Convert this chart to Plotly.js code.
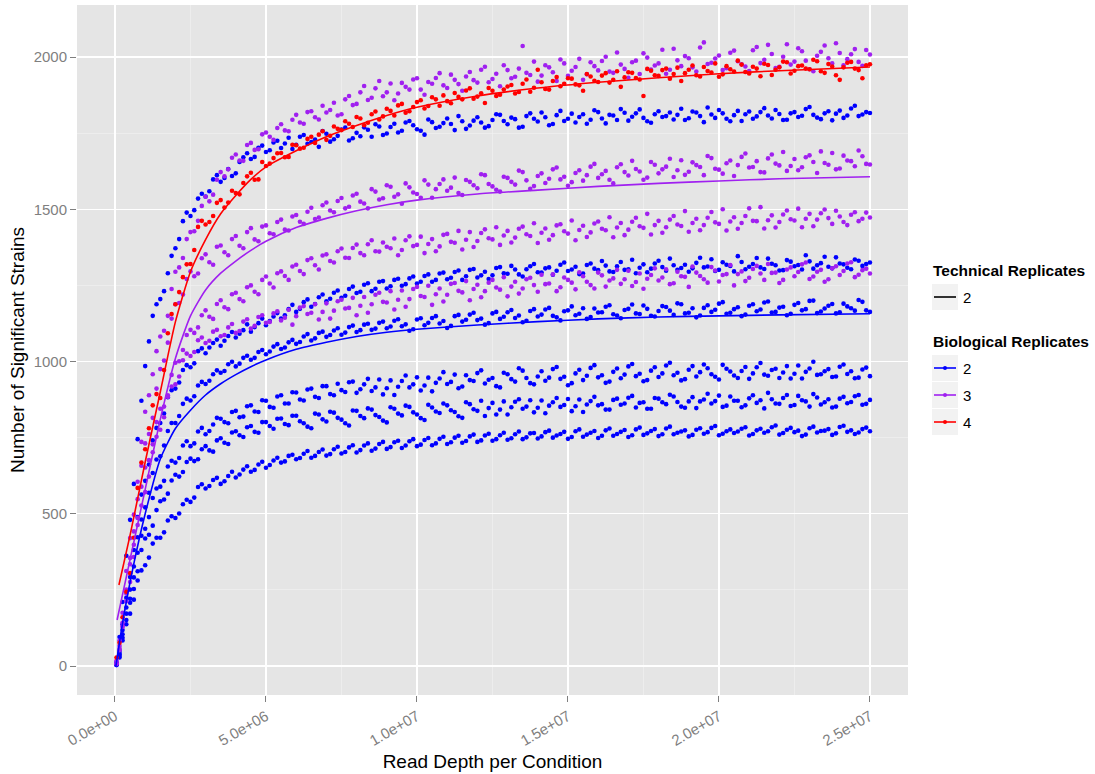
<!DOCTYPE html>
<html>
<head>
<meta charset="utf-8">
<script src="https://cdn.plot.ly/plotly-3.0.1.min.js"></script>
<style>html,body{margin:0;padding:0;background:#fff;}#chart{width:1095px;height:774px;}</style>
</head>
<body>
<div id="chart"></div>
<script>
// Read depth per condition, in millions of reads (two interleaved sampling grids)
const depthM = [0.05,0.25,0.5,0.75,1,1.25,1.5,1.75,2,2.25,2.5,2.75,3,3.25,3.5,3.75,4,4.25,4.5,4.75,
5,5.25,5.5,5.75,6,6.25,6.5,6.75,7,7.25,7.5,7.75,8,8.25,8.5,8.75,9,9.25,9.5,9.75,
10,10.25,10.5,10.75,11,11.25,11.5,11.75,12,12.25,12.5,12.75,13,13.25,13.5,13.75,14,14.25,14.5,14.75,
15,15.25,15.5,15.75,16,16.25,16.5,16.75,17,17.25,17.5,17.75,18,18.25,18.5,18.75,19,19.25,19.5,19.75,
20,20.25,20.5,20.75,21,21.25,21.5,21.75,22,22.25,22.5,22.75,23,23.25,23.5,23.75,24,24.25,24.5,24.75,25];
const depthMidM = [0.15,0.375,0.625,0.875,1.125,1.375,1.625,1.875,2.125,2.375,2.625,2.875,3.125,3.375,3.625,3.875,4.125,4.375,4.625,4.875,
5.125,5.375,5.625,5.875,6.125,6.375,6.625,6.875,7.125,7.375,7.625,7.875,8.125,8.375,8.625,8.875,9.125,9.375,9.625,9.875,
10.125,10.375,10.625,10.875,11.125,11.375,11.625,11.875,12.125,12.375,12.625,12.875,13.125,13.375,13.625,13.875,14.125,14.375,14.625,14.875,
15.125,15.375,15.625,15.875,16.125,16.375,16.625,16.875,17.125,17.375,17.625,17.875,18.125,18.375,18.625,18.875,19.125,19.375,19.625,19.875,
20.125,20.375,20.625,20.875,21.125,21.375,21.625,21.875,22.125,22.375,22.625,22.875,23.125,23.375,23.625,23.875,24.125,24.375,24.625,24.875];

// ---- Biological replicates = 2 (blue), six subsets ----
const bio2_a = [12,210,480,745,985,1150,1205,1290,1372,1461,1478,1535,1542,1598,1590,1632,1618,1671,1665,1702,
1688,1719,1701,1735,1712,1744,1721,1705,1748,1730,1762,1726,1751,1769,1738,1772,1749,1781,1758,1790,
1763,1745,1786,1771,1798,1760,1789,1775,1802,1768,1793,1810,1779,1796,1771,1815,1788,1802,1780,1823,
1797,1785,1812,1794,1819,1782,1808,1829,1791,1815,1800,1784,1822,1806,1795,1830,1799,1818,1786,1811,
1826,1797,1809,1790,1821,1805,1832,1798,1813,1794,1819,1807,1836,1801,1815,1792,1824,1808,1840,1811,1816];
const bio2_a_mid = [95,362,598,871,1066,1188,1231,1347,1402,1489,1497,1551,1559,1612,1603,1609,1655,1684,1672,1709,
1694,1725,1716,1698,1738,1715,1729,1757,1722,1741,1768,1733,1740,1761,1779,1744,1770,1752,1785,1776,
1758,1795,1767,1783,1780,1806,1764,1791,1785,1773,1812,1790,1801,1768,1806,1797,1818,1776,1809,1790,
1814,1803,1781,1825,1798,1810,1793,1817,1804,1828,1789,1812,1803,1818,1810,1793,1821,1806,1834,1800,
1815,1789,1823,1812,1797,1819,1808,1826,1793,1815,1803,1829,1810,1796,1822,1814,1800,1831,1806,1819];
const bio2_b = [9,137,292,489,608,741,798,883,911,972,981,1034,1027,1061,1052,1084,1079,1103,1098,1126,
1119,1148,1141,1172,1163,1195,1180,1211,1198,1226,1209,1238,1225,1252,1231,1262,1240,1268,1249,1273,
1256,1281,1262,1289,1270,1294,1268,1301,1276,1295,1283,1310,1288,1302,1279,1313,1293,1306,1285,1318,
1297,1311,1289,1322,1300,1315,1294,1327,1303,1290,1319,1305,1331,1298,1316,1307,1295,1324,1309,1336,
1301,1318,1296,1327,1311,1340,1304,1321,1299,1333,1313,1302,1329,1316,1344,1306,1322,1308,1335,1314,1325];
const bio2_b_mid = [51,224,381,563,662,782,829,906,931,988,994,1043,1046,1072,1068,1097,1091,1122,1113,1141,
1133,1159,1152,1186,1173,1204,1189,1220,1206,1233,1216,1246,1229,1257,1239,1264,1247,1272,1254,1279,
1262,1286,1268,1292,1275,1299,1280,1304,1283,1271,1307,1290,1314,1286,1303,1320,1292,1309,1298,1325,
1302,1287,1317,1305,1330,1296,1313,1301,1334,1308,1293,1322,1310,1338,1301,1318,1306,1341,1312,1297,
1326,1314,1346,1303,1320,1309,1338,1316,1300,1328,1317,1349,1305,1323,1311,1342,1319,1303,1331,1320];
const bio2_c = [6,118,251,423,521,634,689,772,798,861,872,921,926,958,963,991,984,1012,1006,1031,
1024,1049,1041,1063,1058,1082,1069,1094,1081,1102,1088,1113,1097,1121,1104,1127,1109,1134,1116,1101,
1138,1119,1143,1125,1110,1149,1131,1154,1136,1121,1158,1140,1162,1143,1129,1166,1148,1171,1150,1135,
1168,1152,1175,1146,1161,1180,1155,1142,1173,1158,1184,1150,1166,1179,1153,1188,1160,1145,1176,1163,
1190,1157,1172,1149,1183,1165,1194,1161,1177,1152,1186,1168,1199,1159,1174,1189,1162,1181,1167,1196,1163];
const bio2_c_mid = [43,192,327,481,569,678,724,798,821,878,886,933,937,971,969,999,993,1019,1012,1038,
1033,1057,1046,1071,1064,1090,1076,1098,1087,1109,1095,1118,1103,1124,1108,1131,1115,1139,1122,1106,
1142,1127,1149,1133,1117,1153,1137,1160,1141,1126,1163,1147,1169,1151,1134,1172,1154,1176,1145,1165,
1181,1157,1140,1174,1162,1185,1151,1169,1187,1156,1173,1148,1182,1167,1191,1158,1175,1151,1185,1170,
1195,1160,1178,1154,1188,1171,1197,1163,1180,1157,1192,1172,1200,1164,1183,1158,1190,1175,1202,1168];
const bio2_d = [5,104,221,372,451,552,589,655,668,724,722,770,761,793,812,797,838,819,856,834,
871,848,889,862,898,872,911,880,919,889,906,932,897,925,903,941,912,890,936,915,
948,921,902,944,926,957,918,939,962,928,946,915,958,934,970,929,951,937,975,943,
922,961,939,979,948,930,966,945,984,952,935,970,949,987,955,938,973,951,990,958,
941,976,954,969,943,981,957,972,946,985,960,944,977,956,968,949,983,959,945,974,952];
const bio2_d_mid = [38,172,291,428,489,583,608,674,683,738,731,782,772,815,801,834,817,853,836,873,
851,885,862,899,875,908,884,919,893,927,900,934,909,943,915,892,938,917,954,925,
905,947,930,965,933,912,955,936,971,940,919,963,942,978,946,925,968,947,982,950,
929,973,953,988,955,934,977,957,992,960,939,981,961,996,963,942,985,965,978,950,
989,967,946,982,961,995,953,976,964,944,987,966,999,958,975,951,990,968,947,980];
const bio2_e = [4,93,208,311,419,461,541,566,628,637,681,679,722,704,748,729,771,752,788,766,
801,779,813,791,822,797,781,826,803,832,809,790,838,814,842,818,800,845,823,851,
826,808,849,831,856,834,815,860,838,821,864,842,826,868,845,873,848,830,866,851,
877,853,834,870,856,842,874,858,881,849,866,845,878,860,885,852,869,847,875,862,
888,855,871,850,879,864,846,876,861,890,857,873,852,882,866,849,878,863,886,858,874];
const bio2_e_mid = [33,151,253,381,431,512,547,609,622,670,673,712,708,741,733,767,758,784,769,801,
788,812,795,822,804,786,829,810,835,815,797,839,821,846,824,806,850,829,855,833,
814,858,836,862,840,820,866,843,871,847,826,869,850,876,852,833,872,855,880,857,
837,875,859,884,860,842,878,862,887,864,845,880,866,891,867,848,883,869,894,870,
851,885,871,856,889,873,897,862,880,854,887,869,893,859,876,852,884,867,890,861];
const bio2_f = [3,84,172,281,331,402,421,478,486,531,539,588,583,611,598,624,619,645,638,662,
651,675,668,690,679,697,684,703,691,712,698,718,701,724,707,729,713,735,716,738,
722,742,725,746,729,750,733,754,736,757,740,758,743,761,745,764,747,768,750,762,
746,771,753,766,749,774,756,769,752,777,759,772,755,780,761,770,754,776,763,782,
758,771,765,779,757,774,766,784,760,776,768,755,781,767,773,759,785,769,762,778,771];
const bio2_f_mid = [28,137,218,314,356,421,439,492,501,546,553,597,591,618,607,638,629,656,644,671,
660,684,672,694,683,706,690,711,696,720,703,725,709,731,714,736,719,740,724,745,
727,749,731,753,735,756,739,760,741,763,745,766,748,770,751,765,754,773,757,769,
752,777,760,772,756,780,762,775,758,783,764,778,761,786,766,774,759,781,768,788,
763,777,770,784,762,779,771,790,765,782,773,760,786,772,778,764,789,774,767,783];

// ---- Biological replicates = 3 (purple), four subsets ----
const bio3_a = [18,175,420,605,835,958,1082,1150,1295,1340,1425,1462,1541,1548,1622,1631,1680,1659,1718,1697,
1752,1728,1779,1756,1810,1781,1822,1795,1818,1850,1812,1872,1846,1905,1866,1921,1884,1858,1915,1893,
1930,1876,1912,1947,1898,1925,1889,1951,1916,1968,1928,1904,1957,1935,2036,1941,1919,1973,1950,1992,
1938,1967,1925,1983,1956,2001,1948,1975,1932,1988,2012,1959,1979,1945,2027,1970,1996,1952,2048,1981,
2005,1963,2021,1976,1954,2033,1991,2010,1968,2042,1985,2019,1960,2004,2038,1979,2013,1993,2026,1971,2008];
const bio3_a_mid = [84,312,497,736,889,1034,1101,1238,1309,1402,1428,1511,1526,1597,1608,1669,1660,1711,1695,1746,
1738,1767,1759,1794,1785,1819,1802,1840,1826,1808,1861,1842,1884,1859,1897,1871,1913,1880,1902,1926,
1893,1918,1931,1907,1942,1911,1936,1924,1958,1917,1945,1973,1930,1962,1948,1985,1939,1966,1921,1979,
1955,1994,1943,1970,1987,1952,2015,1961,1983,1944,1998,1972,2024,1958,1989,2003,1966,2031,1977,1995,
1957,2014,1986,1969,2022,1980,2040,1964,2001,1975,2029,1988,1953,2017,1996,2045,1973,2009,1984,2023];
const bio3_b = [8,142,355,548,731,815,975,1062,1188,1220,1296,1289,1352,1318,1381,1349,1412,1372,1438,1395,
1447,1418,1466,1430,1481,1452,1505,1473,1522,1490,1537,1508,1551,1519,1566,1532,1579,1541,1518,1572,
1550,1595,1538,1583,1561,1604,1547,1590,1569,1612,1575,1558,1603,1581,1622,1567,1609,1586,1631,1598,
1577,1619,1594,1640,1603,1626,1585,1648,1611,1632,1597,1655,1618,1640,1606,1661,1623,1645,1612,1668,
1630,1651,1609,1672,1637,1658,1621,1680,1644,1626,1665,1638,1677,1619,1652,1685,1634,1660,1641,1674,1647];
const bio3_b_mid = [66,251,442,658,762,911,1003,1141,1192,1271,1280,1339,1326,1377,1359,1402,1380,1425,1401,1443,
1421,1458,1433,1476,1459,1492,1468,1513,1496,1527,1503,1545,1525,1503,1558,1536,1574,1549,1585,1555,
1538,1581,1566,1598,1571,1553,1596,1579,1615,1583,1564,1607,1590,1627,1595,1576,1618,1600,1637,1607,
1589,1628,1612,1649,1615,1597,1638,1622,1659,1624,1604,1646,1631,1666,1628,1613,1654,1639,1675,1633,
1617,1660,1645,1683,1639,1622,1667,1650,1688,1642,1628,1671,1655,1690,1646,1631,1676,1658,1693,1649];
const bio3_c = [9,131,334,486,652,728,845,889,996,1038,1104,1112,1168,1140,1201,1172,1226,1198,1250,1221,
1279,1243,1296,1268,1318,1287,1339,1302,1352,1325,1371,1340,1384,1349,1398,1361,1377,1404,1366,1411,
1383,1356,1402,1378,1419,1390,1368,1425,1396,1434,1401,1383,1429,1407,1443,1412,1389,1437,1415,1451,
1420,1398,1446,1424,1460,1431,1408,1455,1433,1472,1439,1417,1462,1441,1478,1445,1426,1469,1448,1491,
1452,1430,1474,1455,1503,1461,1437,1480,1458,1496,1463,1441,1485,1466,1499,1452,1476,1448,1490,1469,1473];
const bio3_c_mid = [57,238,398,589,676,801,852,956,1001,1087,1094,1152,1147,1189,1178,1221,1205,1244,1229,1268,
1256,1290,1281,1312,1297,1333,1316,1348,1330,1362,1341,1373,1356,1385,1362,1391,1372,1349,1398,1379,
1410,1386,1362,1416,1393,1429,1400,1376,1422,1405,1441,1414,1391,1436,1418,1454,1423,1400,1447,1428,
1463,1432,1409,1453,1436,1474,1440,1415,1459,1444,1485,1448,1423,1466,1450,1494,1455,1431,1472,1457,
1500,1460,1436,1478,1462,1507,1464,1440,1483,1467,1502,1469,1444,1487,1471,1495,1458,1482,1461,1489];
const bio3_d = [7,128,276,463,571,702,776,884,925,1004,1018,1070,1061,1098,1083,1112,1094,1131,1108,1146,
1127,1158,1135,1170,1149,1182,1160,1138,1191,1167,1203,1176,1152,1212,1188,1226,1194,1171,1233,1205,
1245,1212,1186,1240,1219,1258,1227,1201,1252,1231,1268,1236,1214,1262,1240,1275,1229,1254,1286,1244,
1268,1237,1280,1251,1292,1246,1273,1255,1298,1261,1239,1284,1266,1303,1257,1280,1245,1292,1270,1310,
1263,1287,1250,1296,1275,1314,1268,1291,1258,1302,1280,1319,1271,1295,1262,1306,1284,1322,1277,1300,1289];
const bio3_d_mid = [52,213,358,527,622,753,817,918,951,1026,1031,1079,1068,1104,1087,1123,1100,1139,1117,1152,
1130,1165,1144,1121,1177,1156,1188,1163,1141,1198,1174,1209,1183,1160,1219,1196,1231,1203,1180,1238,
1215,1249,1221,1197,1255,1232,1264,1238,1211,1259,1243,1277,1246,1223,1270,1251,1285,1256,1231,1276,
1259,1293,1262,1240,1283,1266,1301,1270,1248,1289,1272,1306,1276,1254,1295,1278,1312,1281,1259,1299,
1284,1317,1287,1264,1304,1289,1320,1292,1268,1309,1294,1325,1279,1301,1270,1313,1297,1326,1285,1305];

// ---- Biological replicates = 4 (red) ----
const bio4_a = [28,160,305,585,712,856,880,1093,1188,1277,1320,1442,1450,1478,1530,1522,1553,1586,1620,1598,
1642,1668,1685,1672,1710,1702,1738,1745,1728,1772,1760,1781,1803,1776,1812,1795,1830,1808,1846,1822,
1852,1831,1868,1840,1855,1882,1861,1897,1870,1849,1889,1876,1903,1880,1912,1886,1958,1895,1921,1904,
1930,1910,1889,1936,1918,1947,1925,1902,1950,1931,1872,1955,1938,1962,1944,1921,1958,1940,1967,1949,
1935,1970,1952,1975,1946,1962,1978,1941,1966,1983,1955,1972,1960,1986,1948,1969,1925,1981,1962,1930,1976];
const bio4_a_mid = [76,244,421,668,781,893,972,1156,1228,1319,1366,1462,1458,1521,1506,1561,1549,1608,1597,1655,
1650,1684,1671,1712,1699,1731,1718,1756,1741,1764,1789,1770,1798,1784,1821,1805,1823,1841,1817,1836,
1858,1839,1861,1874,1848,1869,1890,1863,1881,1898,1872,1893,1908,1885,1926,1899,1917,1893,1934,1912,
1929,1907,1944,1922,1939,1916,1953,1933,1948,1926,1961,1940,1957,1929,1965,1947,1972,1936,1954,1979,
1943,1960,1988,1951,1968,1937,1974,1958,1985,1946,1970,1962,1991,1953,1977,1940,1966,1984,1957,1973];

// ---- Fitted saturation curves per number of biological replicates ----
const fit2_depthM = [0.03,0.3,0.6,1,1.5,2,2.5,3,3.5,4,4.5,5,6,7,8,9,10,12,14,16,18,20,22,25];
const fit2_value  = [0,170,325,500,680,780,840,890,927,957,983,1005,1040,1063,1082,1096,1106,1120,1131,1140,1146,1150,1153,1157];
const fit3_depthM = [0.07,0.5,1,1.5,2,2.5,3,3.5,4,4.5,5,6,7,8,9,10,12,14,16,18,20,22,25];
const fit3_value  = [151,350,580,810,1010,1150,1235,1290,1330,1365,1395,1440,1470,1495,1515,1530,1550,1563,1575,1585,1593,1600,1607];
const fit4_depthM = [0.13,0.5,1,1.5,2,2.5,3,3.5,4,4.5,5,6,7,8,9,10,12,14,16,18,20,22,25];
const fit4_value  = [266,430,670,900,1130,1295,1400,1485,1545,1598,1639,1692,1738,1775,1808,1835,1872,1898,1917,1932,1945,1955,1967];

const xTickVals = [0, 5e6, 1e7, 1.5e7, 2e7, 2.5e7];
const xTickText = ['0.0e+00','5.0e+06','1.0e+07','1.5e+07','2.0e+07','2.5e+07'];
const yTickVals = [0, 500, 1000, 1500, 2000];

const techLegendTitle = 'Technical Replicates';
const techLevels = ['2'];
const bioLegendTitle = 'Biological Replicates';
const bioLevels = ['2', '3', '4'];

const BLUE = '#0000FF', PURPLE = '#A020F0', RED = '#FF0000';
const bioColors = [BLUE, PURPLE, RED];
const toReads = a => a.map(v => v * 1e6);
const depth = toReads(depthM).concat(toReads(depthMidM));

function pts(y, yMid, color) {
  return {type:'scatter', mode:'markers', x:depth, y:y.concat(yMid), showlegend:false, hoverinfo:'skip',
          marker:{color:color, size:4.6, line:{width:0}}};
}
function fitLine(xm, y, color) {
  return {type:'scatter', mode:'lines', x:toReads(xm), y:y, showlegend:false, hoverinfo:'skip',
          line:{color:color, width:1.6, shape:'spline', smoothing:0.6}};
}

const traces = [
  pts(bio2_a, bio2_a_mid, BLUE), pts(bio2_b, bio2_b_mid, BLUE), pts(bio2_c, bio2_c_mid, BLUE),
  pts(bio2_d, bio2_d_mid, BLUE), pts(bio2_e, bio2_e_mid, BLUE), pts(bio2_f, bio2_f_mid, BLUE),
  pts(bio3_a, bio3_a_mid, PURPLE), pts(bio3_b, bio3_b_mid, PURPLE), pts(bio3_c, bio3_c_mid, PURPLE), pts(bio3_d, bio3_d_mid, PURPLE),
  pts(bio4_a, bio4_a_mid, RED),
  fitLine(fit2_depthM, fit2_value, BLUE),
  fitLine(fit3_depthM, fit3_value, PURPLE),
  fitLine(fit4_depthM, fit4_value, RED)
];

// ---- ggplot-style legend drawn in paper space ----
const PL = 77, PR = 908, PT = 5, PB = 695;
const px2x = p => (p - PL) / (PR - PL);
const py2y = p => (PB - p) / (PB - PT);
const shapes = [], annotations = [];
function legendTitle(text, cy) {
  annotations.push({xref:'paper', yref:'paper', x:px2x(931), y:py2y(cy), xanchor:'left', yanchor:'middle',
    showarrow:false, text:'<b>' + text + '</b>', font:{size:15.5, color:'#000'}});
}
function legendKey(label, cy, color, withDot) {
  shapes.push({type:'rect', xref:'paper', yref:'paper', x0:px2x(932), x1:px2x(958), y0:py2y(cy + 13), y1:py2y(cy - 13),
               fillcolor:'#F2F2F2', line:{width:0}, layer:'below'});
  shapes.push({type:'line', xref:'paper', yref:'paper', x0:px2x(934), x1:px2x(956), y0:py2y(cy), y1:py2y(cy),
               line:{color:color, width:1.6}});
  if (withDot) {
    shapes.push({type:'circle', xref:'paper', yref:'paper', x0:px2x(943), x1:px2x(947), y0:py2y(cy + 2), y1:py2y(cy - 2),
                 fillcolor:color, line:{width:0}});
  }
  annotations.push({xref:'paper', yref:'paper', x:px2x(961), y:py2y(cy), xanchor:'left', yanchor:'middle',
    showarrow:false, text:label, font:{size:15, color:'#000'}});
}
legendTitle(techLegendTitle, 270);
techLevels.forEach((lv, i) => legendKey(lv, 297 + i * 27, '#000000', false));
legendTitle(bioLegendTitle, 341);
bioLevels.forEach((lv, i) => legendKey(lv, 368 + i * 27, bioColors[i], true));

const layout = {
  width:1095, height:774,
  margin:{l:PL, r:1095 - PR, t:PT, b:774 - PB},
  paper_bgcolor:'#FFFFFF', plot_bgcolor:'#E5E5E5',
  font:{family:'Liberation Sans, Arial, sans-serif', color:'#000'},
  showlegend:false,
  shapes:shapes, annotations:annotations,
  xaxis:{range:[-1.258e6, 26.26e6], tickmode:'array', tickvals:xTickVals, ticktext:xTickText,
         tickangle:-30, tickfont:{size:15, color:'#7F7F7F'}, ticks:'outside', ticklen:6, tickcolor:'#7F7F7F', tickwidth:1,
         showgrid:true, gridcolor:'#FFFFFF', gridwidth:1.3, zeroline:false, showline:false,
         minor:{tickmode:'array', tickvals:[2.5e6,7.5e6,1.25e7,1.75e7,2.25e7], showgrid:true, gridcolor:'#F2F2F2', gridwidth:0.6, ticks:''},
         title:{text:'Read Depth per Condition', font:{size:19, color:'#000'}, standoff:6}},
  yaxis:{range:[-95.2, 2170.8], tickmode:'array', tickvals:yTickVals, ticktext:yTickVals.map(String),
         tickfont:{size:15, color:'#7F7F7F'}, ticks:'outside', ticklen:6, tickcolor:'#7F7F7F', tickwidth:1,
         showgrid:true, gridcolor:'#FFFFFF', gridwidth:1.3, zeroline:false, showline:false,
         minor:{tickmode:'array', tickvals:[250,750,1250,1750], showgrid:true, gridcolor:'#F2F2F2', gridwidth:0.6, ticks:''},
         title:{text:'Number of Significant Strains', font:{size:19, color:'#000'}, standoff:3}}
};

Plotly.newPlot('chart', traces, layout, {displayModeBar:false, staticPlot:true});
</script>
</body>
</html>
